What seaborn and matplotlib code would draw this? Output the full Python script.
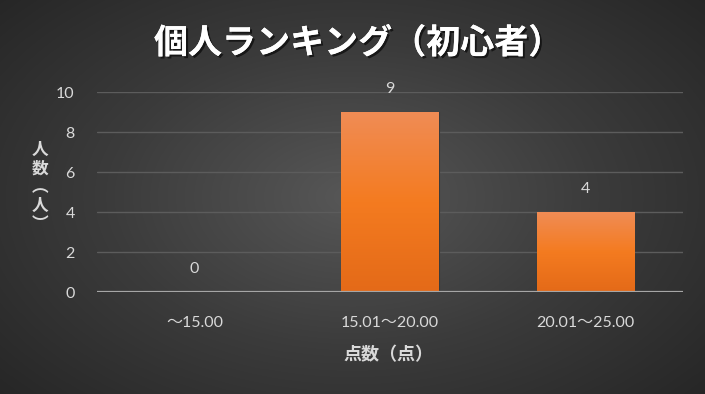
import numpy as np
import matplotlib
matplotlib.use('Agg')
import matplotlib.pyplot as plt
import matplotlib.patheffects as pe
from matplotlib.colors import LinearSegmentedColormap
import seaborn as sns

categories = ['～15.00', '15.01～20.00', '20.01～25.00']
counts = [0, 9, 4]
title = '個人ランキング（初心者）'
x_label = '点数（点）'
y_label = '人\n数\n︵\n人\n︶'

sns.set_theme(style='dark')
plt.rcParams['font.family'] = ['Lato', 'Noto Sans CJK JP', 'DejaVu Sans']

fig = plt.figure(figsize=(7.05, 3.94), dpi=100)

# radial dark background
bg = fig.add_axes([0, 0, 1, 1], zorder=-10)
yy, xx = np.mgrid[-1:1:400j, -1:1:700j]
r = np.sqrt(xx ** 2 + (yy * 0.9) ** 2)
bg_cmap = LinearSegmentedColormap.from_list('bg', ['#575757', '#3b3b3b', '#252525'])
bg.imshow(r, cmap=bg_cmap, aspect='auto', extent=[0, 1, 0, 1], vmin=0, vmax=1.4)
bg.axis('off')

ax = fig.add_axes([97 / 705, 1 - 292 / 394, 586 / 705, 200 / 394])
ax.patch.set_alpha(0)

sns.barplot(x=categories, y=counts, color='#F47B20', width=0.5, ax=ax, zorder=3)

bar_cmap = LinearSegmentedColormap.from_list('bar', ['#F08C55', '#F47B20', '#E46A18'])
grad = np.linspace(0, 1, 256).reshape(-1, 1)
for p in ax.patches:
    x0, w, h = p.get_x(), p.get_width(), p.get_height()
    if h <= 0:
        continue
    p.set_facecolor('none')
    p.set_edgecolor('#3a3a3a')
    p.set_linewidth(0.8)
    im = ax.imshow(grad, cmap=bar_cmap, aspect='auto', extent=[x0, x0 + w, 0, h],
                   origin='upper', zorder=3)
    im.set_clip_path(p)

ax.set_xlim(-0.5, 2.5)
ax.set_ylim(0, 10)
ax.set_yticks([0, 2, 4, 6, 8, 10])
ax.grid(axis='y', color='#5c5c5c', linewidth=1, zorder=0)
ax.grid(axis='x', visible=False)
ax.axhline(0, color='#a6a6a6', linewidth=1.6, zorder=4)
for s in ax.spines.values():
    s.set_visible(False)

ax.tick_params(axis='both', colors='#d9d9d9', labelsize=11.5, length=0)
ax.tick_params(axis='y', pad=16)
ax.tick_params(axis='x', pad=17)
for lbl in ax.get_xticklabels() + ax.get_yticklabels():
    lbl.set_color('#d9d9d9')

for i, v in enumerate(counts):
    ax.text(i, v + 0.8, str(v), ha='center', va='bottom', color='#d9d9d9', fontsize=11.5)

ax.set_xlabel('')
ax.set_ylabel('')

fig.text(388 / 705, 1 - 355 / 394, x_label, ha='center', va='center', color='#d9d9d9',
         fontsize=13, fontweight='bold')
fig.text(40 / 705, 1 - 187 / 394, y_label, ha='center', va='center', color='#d9d9d9',
         fontsize=12, fontweight='bold', linespacing=1.2)

fig.text(358 / 705, 1 - 43 / 394, title, ha='center', va='center', color='white',
         fontsize=24.5, fontweight='bold',
         path_effects=[pe.withSimplePatchShadow(offset=(1.5, -1.5), shadow_rgbFace='black', alpha=0.6),
                       pe.Normal()])

fig.savefig('out.png', dpi=100)
